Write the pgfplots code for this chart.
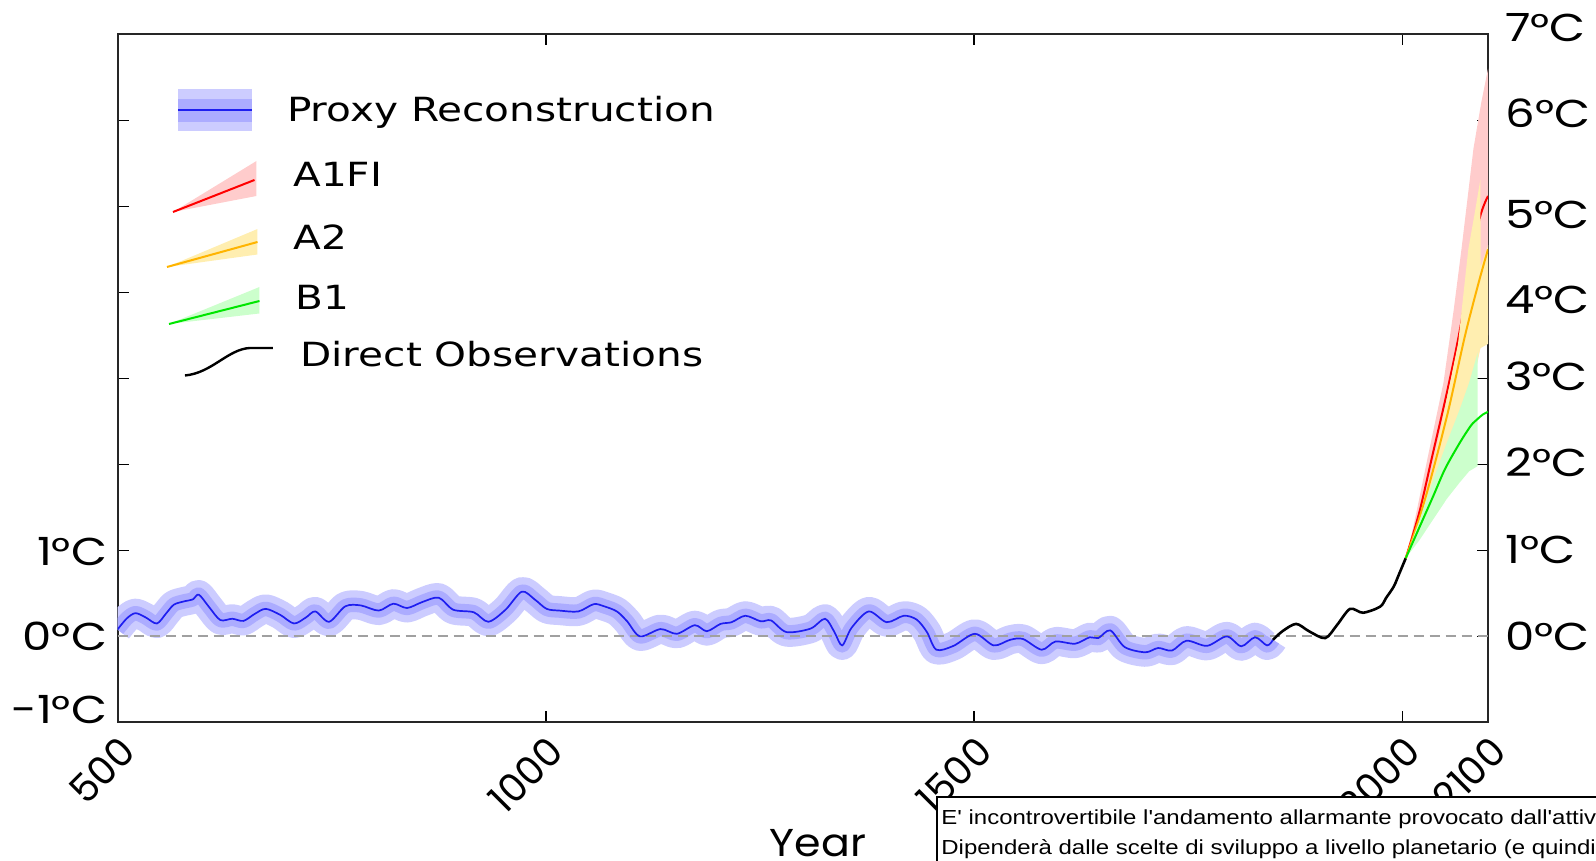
\documentclass[border=0pt]{standalone}
\usepackage{pgfplots}
\pgfplotsset{compat=1.18}
\usepackage{pgfplotstable}
\usepackage{fontspec}
\setmainfont{DejaVu Sans}
\newfontfamily\legfont[FakeStretch=1.22]{DejaVu Sans}
\newfontfamily\ticfont[FakeStretch=1.2]{Poppins}
\newfontfamily\yearfont[FakeStretch=1.1]{Poppins}
\newfontfamily\xticfont{Poppins}
\newfontfamily\boxfont[FakeStretch=1.18,Ligatures=TeXOff]{Liberation Sans}

\definecolor{proxyline}{RGB}{30,30,240}
\definecolor{proxyout}{RGB}{204,204,255}
\definecolor{proxyin}{RGB}{172,172,255}
\definecolor{aband}{RGB}{255,204,204}
\definecolor{aline}{RGB}{255,0,0}
\definecolor{bband}{RGB}{255,238,176}
\definecolor{bline}{RGB}{255,180,0}
\definecolor{cband}{RGB}{204,255,204}
\definecolor{cline}{RGB}{0,230,0}
\definecolor{zeroline}{RGB}{160,160,160}

% proxy reconstruction
\pgfplotstableread{
yr t
500 0.08
511 0.21
521 0.27
533 0.22
546 0.15
557 0.27
566 0.37
579 0.41
588 0.43
595 0.485
607 0.34
620 0.19
634 0.205
647 0.18
660 0.26
673 0.32
690 0.25
706 0.15
720 0.22
731 0.29
747 0.17
766 0.35
784 0.36
805 0.30
822 0.38
838 0.33
856 0.40
875 0.45
892 0.31
916 0.28
933 0.17
953 0.31
972 0.52
987 0.43
1001 0.32
1016 0.30
1038 0.29
1056 0.375
1068 0.35
1083 0.29
1095 0.175
1110 0.00
1134 0.085
1153 0.03
1174 0.13
1188 0.06
1204 0.145
1217 0.165
1233 0.24
1251 0.175
1263 0.185
1281 0.05
1309 0.09
1326 0.205
1337 0.05
1346 -0.105
1357 0.10
1377 0.29
1398 0.165
1418 0.24
1433 0.195
1445 0.05
1456 -0.155
1476 -0.11
1501 0.03
1523 -0.105
1542 -0.04
1557 -0.03
1579 -0.155
1595 -0.06
1618 -0.085
1635 -0.01
1645 -0.02
1659 0.07
1676 -0.125
1700 -0.185
1715 -0.135
1731 -0.165
1748 -0.05
1772 -0.11
1795 0.00
1812 -0.115
1828 -0.01
1842 -0.105
1849 -0.04
}\proxy

% direct observations
\pgfplotstableread{
yr t
1849 -0.04
1860 0.06
1876 0.145
1891 0.06
1910 -0.02
1924 0.136
1939 0.32
1954 0.275
1974 0.345
1981 0.447
1990 0.58
1996 0.72
2004 0.91
}\obs

\pgfplotsset{
  geom/.style={at={(58.75bp,69.3bp)}, anchor=south west, scale only axis,
    width=685.25bp, xmin=500, xmax=2100},
  labaxis/.style={geom, hide x axis, y axis line style={draw=none},
    major tick length=0pt,
    yticklabel style={font=\ticfont\fontsize{19.5}{23}\selectfont, inner sep=0pt}},
}

\begin{document}
\begin{tikzpicture}

\begin{axis}[geom, height=344.05bp, ymin=-1, ymax=7,
  xtick={500,1000,1500,2000,2100},
  xticklabels={500,1000,1500,2000,2100},
  xticklabel style={font=\xticfont\fontsize{19.5}{23}\selectfont, inner sep=0pt,
    xshift=5.3bp, yshift=-10.9bp, rotate=45, anchor=east},
  ytick={-1,0,...,7}, yticklabels={},
  tick align=inside, major tick length=5.5bp,
  tick style={line width=0.8bp, black},
  axis line style={line width=1bp, black!85},
]
% proxy uncertainty: two wide strokes round the curve (0.32 and 0.16 degC wide)
\addplot[proxyout, line width=14.5bp, line join=round, smooth] table[x=yr, y=t] {\proxy};
\addplot[proxyin, line width=7.2bp, line join=round, smooth] table[x=yr, y=t] {\proxy};

% zero line
\addplot[zeroline, line width=1bp, dash pattern=on 5bp off 3bp] coordinates {(500,0) (2100,0)};

\addplot[proxyline, line width=0.85bp, smooth] table[x=yr, y=t] {\proxy};
\addplot[black, line width=1.3bp, smooth] table[x=yr, y=t] {\obs};

% A1FI
\addplot[fill=aband, draw=none] coordinates {
  (2004,0.91) (2010,1.15) (2017,1.47) (2030,2.1) (2048,2.95) (2060,3.8)
  (2069,4.5) (2083,5.67) (2092,6.2) (2100,6.6)
  (2100,3.5) (2091,3.35) (2070,2.5) (2040,1.6) (2004,0.91)};
\addplot[aline, line width=1bp, smooth] coordinates {
  (2004,0.91) (2020,1.45) (2035,2.1) (2051,2.79) (2065,3.45) (2077,4.11) (2090,4.85) (2100,5.12)};
% A2
\addplot[fill=bband, draw=none] coordinates {
  (2004,0.91) (2020,1.3) (2035,1.95) (2051,2.72) (2065,3.4) (2077,4.5)
  (2085,4.95) (2091,5.31) (2091.5,4.3) (2100,4.55)
  (2100,3.4) (2091,3.35) (2088,3.2) (2067,2.4) (2036,1.6) (2004,0.91)};
\addplot[bline, line width=1bp, smooth] coordinates {
  (2004,0.91) (2020,1.38) (2035,1.9) (2054,2.64) (2073,3.49) (2089,4.11) (2100,4.5)};
% B1
\addplot[fill=cband, draw=none] coordinates {
  (2004,0.91) (2020,1.12) (2036,1.36) (2052,1.6) (2067,1.79) (2078,1.92)
  (2088,1.98) (2088,3.3) (2078,2.95) (2067,2.64) (2050,2.2) (2036,1.82)
  (2020,1.35) (2004,0.91)};
\addplot[cline, line width=1bp, smooth] coordinates {
  (2004,0.91) (2020,1.27) (2036,1.63) (2050,1.95) (2067,2.25) (2080,2.45)
  (2087,2.52) (2094,2.58) (2100,2.61)};
\end{axis}

% left labels
\begin{axis}[labaxis, height=344.05bp, ymin=-1, ymax=7, axis y line*=left,
  ytick={-0.85,0,0.99}, yticklabels={-1°C,0°C,1°C},
  yticklabel style={anchor=east, xshift=-5bp}]
\addplot[draw=none] coordinates {(500,0) (2100,0)};
\end{axis}
% right labels
\begin{axis}[labaxis, height=387.06bp, ymin=-1, ymax=8, axis y line*=right,
  ytick={0,1.01,2.02,3.02,3.91,4.90,6.08,7.08},
  yticklabels={0°C,1°C,2°C,3°C,4°C,5°C,6°C,7°C},
  yticklabel style={anchor=west, xshift=8.5bp}]
\addplot[draw=none] coordinates {(500,0) (2100,0)};
\end{axis}

% legend and notes, in pixel units of the reference
\begin{scope}[shift={(0,430.5bp)}, x=0.5bp, y=-0.5bp]
\tikzset{leg/.style={anchor=base west, inner sep=0pt, font=\legfont\fontsize{16.7}{20}\selectfont}}
\fill[proxyout] (178,89) rectangle (252,131);
\fill[proxyin] (178,99) rectangle (252,122);
\draw[proxyline, line width=0.85bp] (178,110) -- (252,110);
\node[leg] at (286.7,121.7) {Proxy Reconstruction};

\fill[aband] (173,212) -- (256.5,161) -- (256.5,196) -- cycle;
\draw[aline, line width=1bp] (173,212) -- (254.5,180);
\node[leg] at (293,187) {A1FI};

\fill[bband] (167,267) -- (257.5,229) -- (257.5,254.5) -- cycle;
\draw[bline, line width=1bp] (167,267) -- (257.5,242);
\node[leg] at (293,250) {A2};

\fill[cband] (169,324) -- (259.5,287) -- (259.5,313.5) -- cycle;
\draw[cline, line width=1bp] (169,324) -- (259.5,301);
\node[leg] at (295,310) {B1};

\draw[black, line width=1.2bp] (185,375.5) .. controls (212,373) and (228,349) .. (250,348) -- (273,348);
\node[leg] at (300,367) {Direct Observations};

\node[anchor=base, inner sep=0pt, font=\yearfont\fontsize{19.5}{23}\selectfont] at (818,857) {Year};

\begin{scope}
\clip (0,0) rectangle (1596,861);
\draw[line width=1bp, fill=white] (936.7,797) rectangle (1700,920);
\node[anchor=base west, inner sep=0pt, font=\boxfont\fontsize{10.2}{12}\selectfont] at (941,825)
  {E' incontrovertibile l'andamento allarmante provocato dall'attività};
\node[anchor=base west, inner sep=0pt, font=\boxfont\fontsize{10.2}{12}\selectfont] at (941,855)
  {Dipenderà dalle scelte di sviluppo a livello planetario (e quindi};
\end{scope}
\end{scope}
\pgfresetboundingbox
\path[use as bounding box] (0,0) rectangle (798bp,430.5bp);
\end{tikzpicture}
\end{document}
